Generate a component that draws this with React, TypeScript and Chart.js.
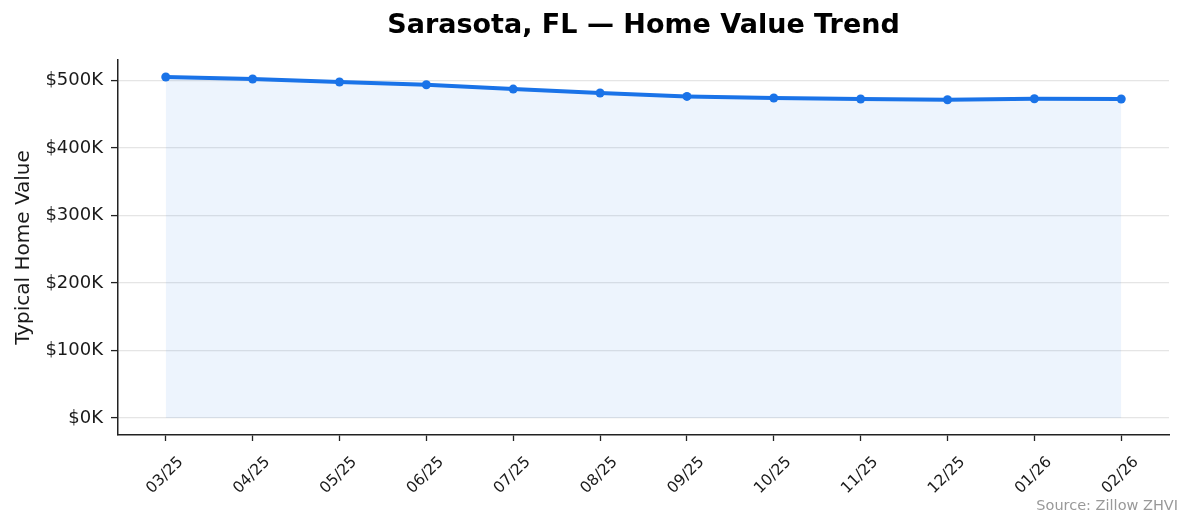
import React, { useEffect, useRef } from "react";
import { Chart, registerables } from "chart.js";

Chart.register(...registerables);

const months = ["03/25", "04/25", "05/25", "06/25", "07/25", "08/25", "09/25", "10/25", "11/25", "12/25", "01/26", "02/26"];
const homeValues = [505000, 502100, 497600, 493600, 487200, 481300, 476300, 473900, 472400, 471400, 472900, 472400];
const yTicks = [0, 100000, 200000, 300000, 400000, 500000];
const titleText = "Sarasota, FL — Home Value Trend";
const yAxisLabel = "Typical Home Value";
const sourceText = "Source: Zillow ZHVI";

const FONT = "'DejaVu Sans', 'Noto Sans', sans-serif";
const W = 1194;
const H = 529;

const textPlugin = {
  id: "textPlugin",
  afterDraw(chart: any) {
    const { ctx, chartArea } = chart;
    ctx.save();
    ctx.fillStyle = "#000";
    ctx.font = `bold 27px ${FONT}`;
    ctx.textAlign = "center";
    ctx.textBaseline = "middle";
    ctx.fillText(titleText, (chartArea.left + chartArea.right) / 2, 26);
    ctx.fillStyle = "#999";
    ctx.font = `14.5px ${FONT}`;
    ctx.textAlign = "right";
    ctx.fillText(sourceText, 1178, 506);
    ctx.restore();
  },
};

export default function App() {
  const ref = useRef<HTMLCanvasElement | null>(null);
  useEffect(() => {
    if (!ref.current) return;
    const chart = new Chart(ref.current, {
      type: "line",
      data: {
        datasets: [
          {
            data: homeValues.map((v, i) => ({ x: i, y: v })),
            borderColor: "#1a73e8",
            backgroundColor: "rgba(26,115,232,0.08)",
            fill: "origin",
            borderWidth: 4,
            pointRadius: 4.5,
            pointBackgroundColor: "#1a73e8",
            pointBorderWidth: 0,
            tension: 0,
          },
        ],
      },
      options: {
        responsive: false,
        animation: false,
        layout: { padding: { top: 60, right: 25, left: 0, bottom: 0 } },
        plugins: {
          legend: { display: false },
          title: { display: false },
          tooltip: { enabled: false },
        },
        scales: {
          x: {
            type: "linear",
            min: -0.55,
            max: 11.55,
            afterBuildTicks: (s: any) => {
              s.ticks = months.map((_, i) => ({ value: i }));
            },
            afterFit: (s: any) => {
              s.height = 94;
            },
            grid: { drawOnChartArea: false, drawTicks: true, tickLength: 6, tickColor: "#222", tickWidth: 1.3 },
            border: { display: true, color: "#222", width: 1.5 },
            ticks: {
              autoSkip: false,
              minRotation: 45,
              maxRotation: 45,
              padding: 12,
              labelOffset: 15,
              color: "#1a1a1a",
              font: { family: FONT, size: 15.5 },
              callback: (v: any) => months[Math.round(Number(v))] ?? "",
            },
          },
          y: {
            type: "linear",
            min: -25250,
            max: 530250,
            afterBuildTicks: (s: any) => {
              s.ticks = yTicks.map((v) => ({ value: v }));
            },
            afterFit: (s: any) => {
              s.width = 118;
            },
            grid: { color: "rgba(176,176,176,0.33)", lineWidth: 1.2, tickColor: "#222", tickLength: 7, tickWidth: 1.3 },
            border: { display: true, color: "#222", width: 1.5 },
            ticks: {
              padding: 8,
              color: "#1a1a1a",
              font: { family: FONT, size: 18 },
              callback: (v: any) => "$" + Math.round(Number(v) / 1000) + "K",
            },
            title: {
              display: true,
              text: yAxisLabel,
              color: "#1a1a1a",
              font: { family: FONT, size: 20 },
              padding: { top: 12, bottom: 0 },
            },
          },
        },
      },
      plugins: [textPlugin],
    } as any);
    return () => chart.destroy();
  }, []);

  return (
    <div style={{ position: "absolute", left: 0, top: 0, width: W, height: H, background: "#fff" }}>
      <canvas ref={ref} width={W} height={H} style={{ display: "block", width: W, height: H }} />
    </div>
  );
}
